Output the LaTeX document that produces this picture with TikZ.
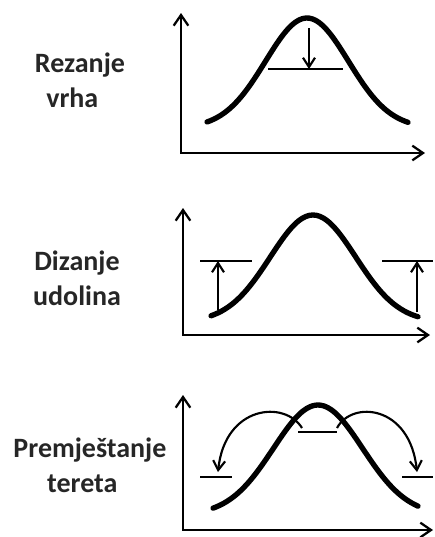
\documentclass[tikz,border=0pt]{standalone}
\usepackage{fontspec}
\setmainfont{Carlito}
\usetikzlibrary{arrows.meta}

\begin{document}
\begin{tikzpicture}[
    x=0.75pt, y=-0.75pt,
    axis/.style={{Straight Barb[length=8pt,width=11pt]}-{Straight Barb[length=8pt,width=11pt]}, line width=1.7pt},
    curve/.style={line width=4pt, line cap=round},
    bar/.style={line width=1.8pt},
    arrow/.style={-{Straight Barb[length=7pt,width=9pt]}, line width=1.6pt},
    lbl/.style={font=\fontsize{21}{26}\selectfont\bfseries, align=center, text=black!85}
]
\useasboundingbox (0,0) rectangle (435,537);

% Rezanje vrha
\node[lbl] (lbl1) at (80,80) {Rezanje\\vrha\hspace*{0.55em}};
\draw[axis] (181,13) -- (181,153) -- (425,153);
\draw[curve] plot[domain=207:408, samples=60, smooth] (\x, {128-110*exp(-((\x-307)/58.7)^2)});
\coordinate (top1) at (309,28);
\coordinate (cut1) at (309,69);
\draw[bar] (268,69) -- (343,69);
\draw[arrow] (top1) -- (cut1);

% Dizanje udolina
\node[lbl] (lbl2) at (77,278) {Dizanje\\udolina};
\draw[axis] (183,208) -- (183,335) -- (430,335);
\draw[curve] plot[domain=211:418, samples=60, smooth] (\x, {322-107*exp(-((\x-313)/60.5)^2)});
\coordinate (low2a) at (218,310);
\coordinate (fill2a) at (218,261);
\coordinate (low2b) at (417,312);
\coordinate (fill2b) at (417,261);
\draw[bar] (200,261) -- (252,261);
\draw[bar] (382,261) -- (433,261);
\draw[arrow] (low2a) -- (fill2a);
\draw[arrow] (low2b) -- (fill2b);

% Premjestanje tereta
\node[lbl] (lbl3) at (90,465) {Premještanje\\tereta\hspace*{0.55em}};
\draw[axis] (183,395) -- (183,530) -- (433,530);
\draw[curve] plot[domain=213:418, samples=60, smooth] (\x, {515-110*exp(-((\x-318)/63)^2)});
\coordinate (peakL) at (302,428);
\coordinate (peakR) at (337,428);
\coordinate (sideL) at (218,472);
\coordinate (sideR) at (417,472);
\draw[bar] (298,432) -- (337,432);
\draw[bar] (200,477) -- (232,477);
\draw[bar] (402,477) -- (433,477);
\draw[arrow] (peakL) .. controls (285,400) and (225,405) .. (sideL);
\draw[arrow] (peakR) .. controls (352,400) and (410,405) .. (sideR);

\end{tikzpicture}
\end{document}
